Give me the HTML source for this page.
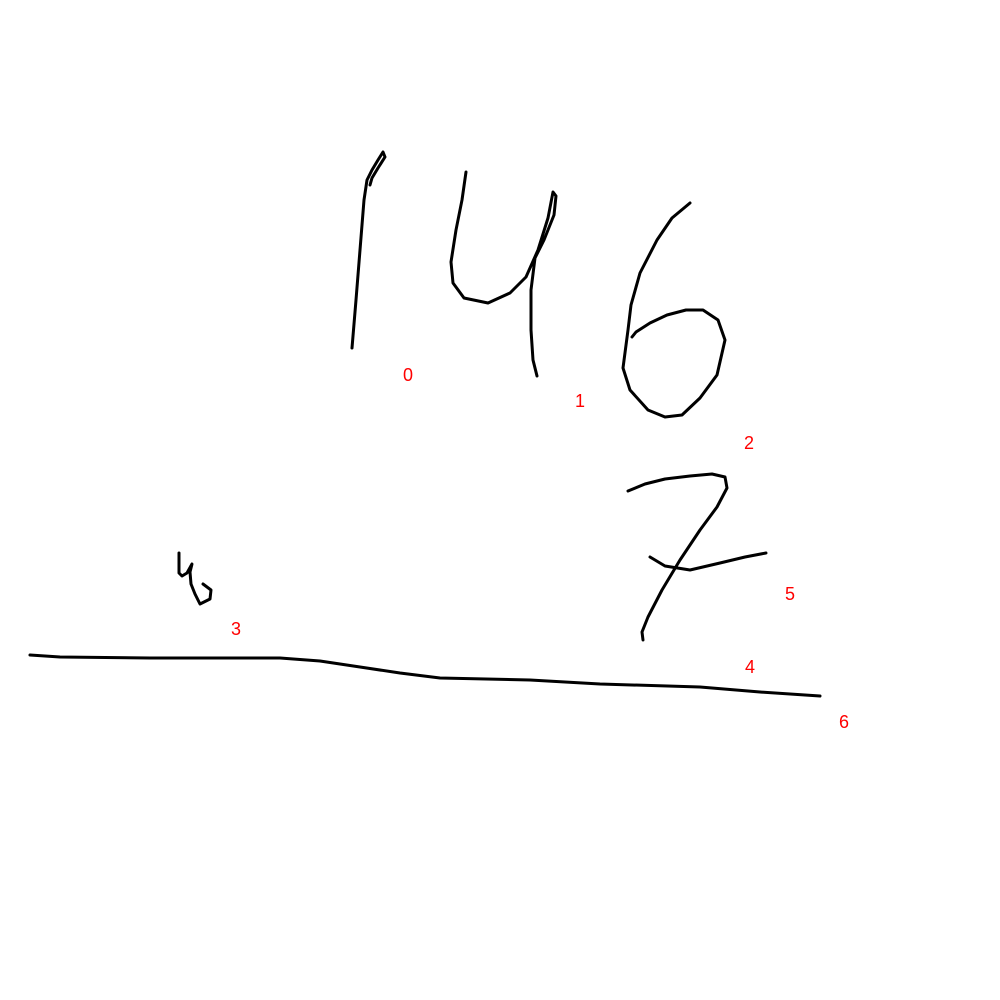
<!DOCTYPE html>
<html><head><meta charset="utf-8"><style>body{margin:0;background:#fff}svg{display:block}</style></head>
<body>
<svg id="c" width="1000" height="1000" viewBox="0 0 1000 1000" xmlns="http://www.w3.org/2000/svg"></svg>
<script>
const stroke0=[[352,348],[356,300],[360,250],[364,200],[367,180],[372,170],[378,160],[383,152],[385,157],[378,168],[372,178],[370,185]];
const stroke1=[[466,172],[462,200],[456,230],[451,262],[453,283],[464,298],[488,303],[510,293],[526,277],[538,250],[548,218],[553,192],[556,196],[554,215],[544,240],[535,258],[531,290],[531,330],[533,360],[537,376]];
const stroke2=[[690,203],[672,218],[657,240],[640,273],[631,305],[628,330],[623,368],[630,390],[648,410],[665,417],[682,415],[700,398],[717,375],[725,340],[718,320],[703,310],[686,310],[667,315],[650,323],[636,332],[632,337]];
const stroke3=[[179,553],[179,573],[182,576],[187,573],[192,564],[190,572],[191,584],[195,594],[200,604],[210,599],[211,590],[203,584]];
const stroke4=[[628,491],[645,484],[665,479],[690,476],[712,474],[725,477],[727,488],[717,507],[700,530],[680,560],[662,590],[648,617],[642,632],[643,640]];
const stroke5=[[650,557],[665,566],[690,570],[720,563],[745,557],[766,553]];
const stroke6=[[30,655],[60,657],[150,658],[280,658],[320,661],[360,667],[400,673],[440,678],[530,680],[600,684],[700,687],[760,692],[820,696]];
const strokes=[stroke0,stroke1,stroke2,stroke3,stroke4,stroke5,stroke6];
const labelText=["0","1","2","3","4","5","6"];
const labelPos=[[408,375],[580,401],[749,443],[236,629],[750,667],[790,594],[844,722]];
const svg=document.getElementById('c');
const NS='http://www.w3.org/2000/svg';
strokes.forEach((s,i)=>{
  const p=document.createElementNS(NS,'polyline');
  p.setAttribute('points',s.map(q=>q.join(',')).join(' '));
  p.setAttribute('fill','none');p.setAttribute('stroke','#000');
  p.setAttribute('stroke-width','3');p.setAttribute('stroke-linejoin','round');p.setAttribute('stroke-linecap','round');
  
  
  svg.appendChild(p);
});
labelText.forEach((t,i)=>{
  const e=document.createElementNS(NS,'text');
  e.setAttribute('x',labelPos[i][0]);e.setAttribute('y',labelPos[i][1]+6);
  e.setAttribute('text-anchor','middle');e.setAttribute('fill','#f00');
  e.setAttribute('font-family','Liberation Sans, sans-serif');e.setAttribute('font-size','18');
  e.textContent=t;
  
  
  svg.appendChild(e);
});
</script>
</body></html>
